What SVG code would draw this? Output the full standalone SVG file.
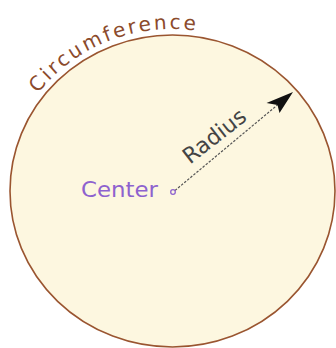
<svg xmlns="http://www.w3.org/2000/svg" width="336" height="348" viewBox="0 0 336 348">
<style>
.lbl{font-family:"DejaVu Sans","Noto Sans",sans-serif}
</style>
<defs>
<path id="arcp" d="M 37.9 93.5 A 168.5 162 0 0 1 216.1 34.5"/>
</defs>
<rect width="336" height="348" fill="#ffffff"/>
<g id="circle">
<ellipse cx="172.5" cy="191" rx="162.5" ry="156" fill="#fdf7e0" stroke="#9a5530" stroke-width="1.6"/>
<text class="lbl" font-size="20" fill="#8b4a2b" letter-spacing="2.6"><textPath href="#arcp">Circumference</textPath></text>
</g>
<g id="connectors">
<line x1="175" y1="190.5" x2="278" y2="104.5" stroke="#555" stroke-width="1.2" stroke-dasharray="2.5,1.5"/>
<path d="M293 92 L266.5 103 L277.5 105 L279.5 113 Z" fill="#111"/>
</g>
<g id="radius">
<text class="lbl" font-size="22" fill="#444" text-anchor="middle" transform="translate(219,142) rotate(-38)">Radius</text>
</g>
<g id="center">
<text class="lbl" x="81" y="197" font-size="22" fill="#8e62cf" textLength="77" lengthAdjust="spacingAndGlyphs">Center</text>
<circle cx="173" cy="192" r="2.3" fill="#fdf7e0" stroke="#8e62cf" stroke-width="1.3"/>
</g>
</svg>
